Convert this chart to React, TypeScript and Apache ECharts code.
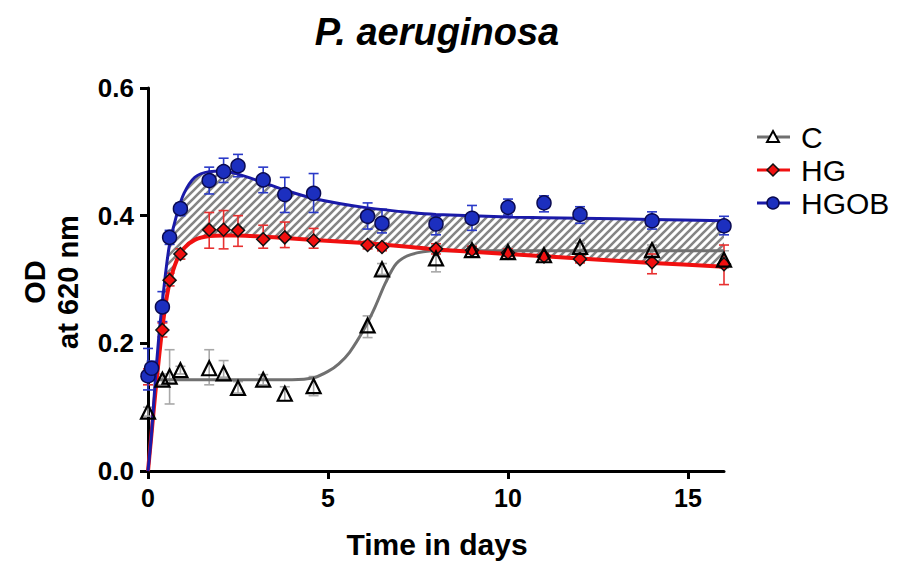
import React, { useEffect, useRef } from "react";
import * as echarts from "echarts";

// ---- Data ----
const timesCH = [0, 0.4, 0.6, 0.9, 1.7, 2.1, 2.5, 3.2, 3.8, 4.6, 6.1, 6.5, 8, 9, 10, 11, 12, 14, 16];
const cValues = [0.093, 0.143, 0.148, 0.158, 0.161, 0.153, 0.13, 0.143, 0.121, 0.133, 0.228, 0.316, 0.333, 0.346, 0.343, 0.338, 0.351, 0.346, 0.331];
const hgValues = [0.148, 0.221, 0.299, 0.34, 0.378, 0.378, 0.377, 0.363, 0.366, 0.361, 0.354, 0.351, 0.348, 0.346, 0.342, 0.336, 0.332, 0.327, 0.324];
const timesHGOB = [0, 0.1, 0.4, 0.6, 0.9, 1.7, 2.1, 2.5, 3.2, 3.8, 4.6, 6.1, 6.5, 8, 9, 10, 11, 12, 14, 16];
const hgobValues = [0.149, 0.161, 0.257, 0.366, 0.411, 0.455, 0.469, 0.478, 0.456, 0.433, 0.435, 0.399, 0.388, 0.387, 0.396, 0.413, 0.42, 0.402, 0.392, 0.384];

// error bars: [low, high]
const cErr = [[0.086, 0.1], [0.135, 0.152], [0.105, 0.19], [0.152, 0.164], [0.135, 0.19], [0.147, 0.173], [0.122, 0.14], [0.135, 0.151], [0.11, 0.132], [0.118, 0.148], [0.209, 0.243], [0.308, 0.325], [0.312, 0.352], [0.34, 0.352], [0.337, 0.349], [0.332, 0.344], [0.345, 0.357], [0.338, 0.354], [0.318, 0.345]];
const hgErr = [[0.135, 0.16], [0.21, 0.232], [0.29, 0.31], [0.332, 0.348], [0.349, 0.405], [0.348, 0.408], [0.352, 0.4], [0.349, 0.385], [0.35, 0.39], [0.349, 0.38], [0.348, 0.36], [0.345, 0.357], [0.34, 0.356], [0.34, 0.352], [0.336, 0.348], [0.331, 0.341], [0.326, 0.338], [0.309, 0.34], [0.292, 0.354]];
const hgobErr = [[0.127, 0.192], [0.15, 0.172], [0.234, 0.281], [0.355, 0.377], [0.4, 0.42], [0.434, 0.476], [0.452, 0.49], [0.461, 0.496], [0.436, 0.476], [0.405, 0.46], [0.405, 0.466], [0.379, 0.42], [0.373, 0.41], [0.37, 0.399], [0.377, 0.416], [0.401, 0.426], [0.406, 0.431], [0.388, 0.414], [0.379, 0.406], [0.37, 0.399]];

// fitted curves
const curveX = [0, 0.1, 0.2, 0.3, 0.4, 0.5, 0.6, 0.8, 1.0, 1.3, 1.7, 2.1, 2.5, 3.2, 3.8, 4.6, 6, 7.3, 8, 10, 12, 14, 16];
const hgobCurve = [0, 0.06, 0.14, 0.21, 0.265, 0.315, 0.355, 0.402, 0.435, 0.46, 0.469, 0.47, 0.465, 0.452, 0.44, 0.427, 0.413, 0.405, 0.402, 0.398, 0.396, 0.394, 0.392];
const hgCurve = [0, 0.06, 0.12, 0.175, 0.225, 0.265, 0.295, 0.33, 0.349, 0.362, 0.368, 0.369, 0.369, 0.367, 0.365, 0.362, 0.357, 0.351, 0.347, 0.34, 0.333, 0.326, 0.32];
const cCurveX = [0, 4.0, 4.6, 5.0, 5.3, 5.6, 6.0, 6.3, 6.6, 6.9, 7.3, 8, 16];
const cCurve = [0.143, 0.143, 0.146, 0.156, 0.168, 0.186, 0.222, 0.256, 0.295, 0.325, 0.339, 0.345, 0.345];

const xTicks = [0, 5, 10, 15];
const yTicks = [0, 0.2, 0.4, 0.6];

const FONT = "'Liberation Sans', Arial, sans-serif";
const GREY = "#707070";
const RED = "#f01010";
const BLUE = "#1a1aa8";

function makeHatch(): string {
  const s = 8;
  const c = document.createElement("canvas");
  c.width = s;
  c.height = s;
  const g = c.getContext("2d")!;
  g.fillStyle = "#ffffff";
  g.fillRect(0, 0, s, s);
  g.strokeStyle = "#858585";
  g.lineWidth = 2.6;
  g.beginPath();
  g.moveTo(-1, s + 1);
  g.lineTo(s + 1, -1);
  g.moveTo(-s / 2 - 1, s / 2 + 1);
  g.lineTo(s / 2 + 1, -s / 2 - 1);
  g.moveTo(s / 2 - 1, s * 1.5 + 1);
  g.lineTo(s * 1.5 + 1, s / 2 - 1);
  g.stroke();
  return c.toDataURL();
}

function errSeries(times: number[], errs: number[][], color: string, z: number) {
  return {
    type: "custom",
    z,
    silent: true,
    clip: false,
    data: times.map((t, i) => [t, errs[i][0], errs[i][1]]),
    encode: { x: 0, y: [1, 2] },
    renderItem: (params: any, api: any) => {
      const x = api.value(0);
      const p1 = api.coord([x, api.value(1)]);
      const p2 = api.coord([x, api.value(2)]);
      const w = 5;
      const st = { stroke: color, lineWidth: 1.6 };
      return {
        type: "group",
        children: [
          { type: "line", shape: { x1: p1[0], y1: p1[1], x2: p2[0], y2: p2[1] }, style: st },
          { type: "line", shape: { x1: p1[0] - w, y1: p1[1], x2: p1[0] + w, y2: p1[1] }, style: st },
          { type: "line", shape: { x1: p2[0] - w, y1: p2[1], x2: p2[0] + w, y2: p2[1] }, style: st },
        ],
      };
    },
  };
}

export default function App() {
  const ref = useRef<HTMLDivElement>(null);
  useEffect(() => {
    document.body.style.margin = "0";
    if (!ref.current) return;
    const chart = echarts.init(ref.current, undefined, { renderer: "svg" });
    const hatch = makeHatch();

    const legendItems = [
      { name: "C", y: 137, color: GREY, marker: "tri" },
      { name: "HG", y: 170, color: RED, marker: "dia" },
      { name: "HGOB", y: 203, color: BLUE, marker: "cir" },
    ];
    const legendGraphics: any[] = [];
    legendItems.forEach((it) => {
      const cx = 773;
      legendGraphics.push({
        type: "line",
        shape: { x1: 757, y1: it.y, x2: 790, y2: it.y },
        style: { stroke: it.color, lineWidth: 3 },
      });
      if (it.marker === "tri") {
        legendGraphics.push({
          type: "polygon",
          shape: { points: [[cx, it.y - 6], [cx + 6, it.y + 5], [cx - 6, it.y + 5]] },
          style: { fill: "#fff", stroke: "#000", lineWidth: 2 },
        });
      } else if (it.marker === "dia") {
        legendGraphics.push({
          type: "polygon",
          shape: { points: [[cx, it.y - 6], [cx + 6, it.y], [cx, it.y + 6], [cx - 6, it.y]] },
          style: { fill: RED, stroke: "#111", lineWidth: 1.5 },
        });
      } else {
        legendGraphics.push({
          type: "circle",
          shape: { cx, cy: it.y, r: 6 },
          style: { fill: "#1c2fbf", stroke: "#0a0a50", lineWidth: 1.5 },
        });
      }
      legendGraphics.push({
        type: "text",
        x: 801,
        y: it.y,
        style: { text: it.name, font: `30px ${FONT}`, fill: "#000", verticalAlign: "middle", align: "left" },
      });
    });

    const option: any = {
      animation: false,
      backgroundColor: "#ffffff",
      grid: { left: 148, right: 195, top: 88, bottom: 91 },
      xAxis: {
        type: "value",
        min: 0,
        max: 16,
        interval: 5,
        axisLine: { show: true, lineStyle: { color: "#000", width: 3 } },
        axisTick: { show: true, length: 8, lineStyle: { color: "#000", width: 3 }, customValues: xTicks },
        axisLabel: { margin: 14, color: "#000", fontSize: 25, fontWeight: "bold", fontFamily: FONT, customValues: xTicks },
        splitLine: { show: false },
      },
      yAxis: {
        type: "value",
        min: 0,
        max: 0.6,
        interval: 0.2,
        axisLine: { show: true, lineStyle: { color: "#000", width: 3 } },
        axisTick: { show: true, length: 8, lineStyle: { color: "#000", width: 3 }, customValues: yTicks },
        axisLabel: {
          margin: 14,
          color: "#000",
          fontSize: 26,
          fontWeight: "bold",
          fontFamily: FONT,
          customValues: yTicks,
          formatter: (v: number) => v.toFixed(1),
        },
        splitLine: { show: false },
      },
      graphic: [
        {
          type: "text",
          x: 437,
          y: 32,
          style: { text: "P. aeruginosa", font: `italic bold 38px ${FONT}`, fill: "#000", align: "center", verticalAlign: "middle" },
        },
        {
          type: "text",
          x: 437,
          y: 544,
          style: { text: "Time in days", font: `bold 30px ${FONT}`, fill: "#000", align: "center", verticalAlign: "middle" },
        },
        {
          type: "text",
          x: 51,
          y: 282,
          rotation: Math.PI / 2,
          style: {
            text: "OD\nat 620 nm",
            font: `bold 29px ${FONT}`,
            lineHeight: 33,
            fill: "#000",
            align: "center",
            verticalAlign: "middle",
          },
        },
        ...legendGraphics,
      ],
      series: [
        {
          type: "custom",
          z: 1,
          silent: true,
          data: [[0, 0]],
          encode: { x: 0, y: 1 },
          renderItem: (params: any, api: any) => {
            const pts: number[][] = [];
            for (let i = 0; i < curveX.length; i++) pts.push(api.coord([curveX[i], hgobCurve[i]]));
            for (let i = curveX.length - 1; i >= 0; i--) pts.push(api.coord([curveX[i], hgCurve[i]]));
            return {
              type: "polygon",
              shape: { points: pts },
              style: { fill: { image: hatch, repeat: "repeat" }, stroke: "none" },
            };
          },
        },
        errSeries(timesCH, cErr, "#a8a8a8", 2),
        errSeries(timesCH, hgErr, "#e83030", 2),
        errSeries(timesHGOB, hgobErr, "#2a3ac8", 2),
        {
          name: "C fit",
          type: "line",
          z: 3,
          smooth: 0.3,
          showSymbol: false,
          symbol: "none",
          data: cCurveX.map((x, i) => [x, cCurve[i]]),
          lineStyle: { color: GREY, width: 3 },
        },
        {
          name: "HG fit",
          type: "line",
          z: 3,
          smooth: 0.3,
          showSymbol: false,
          symbol: "none",
          data: curveX.map((x, i) => [x, hgCurve[i]]),
          lineStyle: { color: RED, width: 4 },
        },
        {
          name: "HGOB fit",
          type: "line",
          z: 3,
          smooth: 0.3,
          showSymbol: false,
          symbol: "none",
          data: curveX.map((x, i) => [x, hgobCurve[i]]),
          lineStyle: { color: BLUE, width: 3 },
        },
        {
          name: "HG",
          type: "scatter",
          z: 4,
          symbol: "diamond",
          symbolSize: 13,
          data: timesCH.map((t, i) => [t, hgValues[i]]),
          itemStyle: { color: RED, borderColor: "#111", borderWidth: 1.5, opacity: 1 },
        },
        {
          name: "C",
          type: "scatter",
          z: 5,
          symbol: "triangle",
          symbolSize: 14,
          data: timesCH.map((t, i) => [t, cValues[i]]),
          itemStyle: { color: "rgba(255,255,255,0)", borderColor: "#000", borderWidth: 2.2, opacity: 1 },
        },
        {
          name: "HGOB",
          type: "scatter",
          z: 4,
          symbol: "circle",
          symbolSize: 14,
          data: timesHGOB.map((t, i) => [t, hgobValues[i]]),
          itemStyle: { color: "#1c2fbf", borderColor: "#0a0a50", borderWidth: 1.5, opacity: 1 },
        },
      ],
    };
    chart.setOption(option);
    return () => chart.dispose();
  }, []);
  return <div ref={ref} style={{ width: 919, height: 562 }} />;
}
